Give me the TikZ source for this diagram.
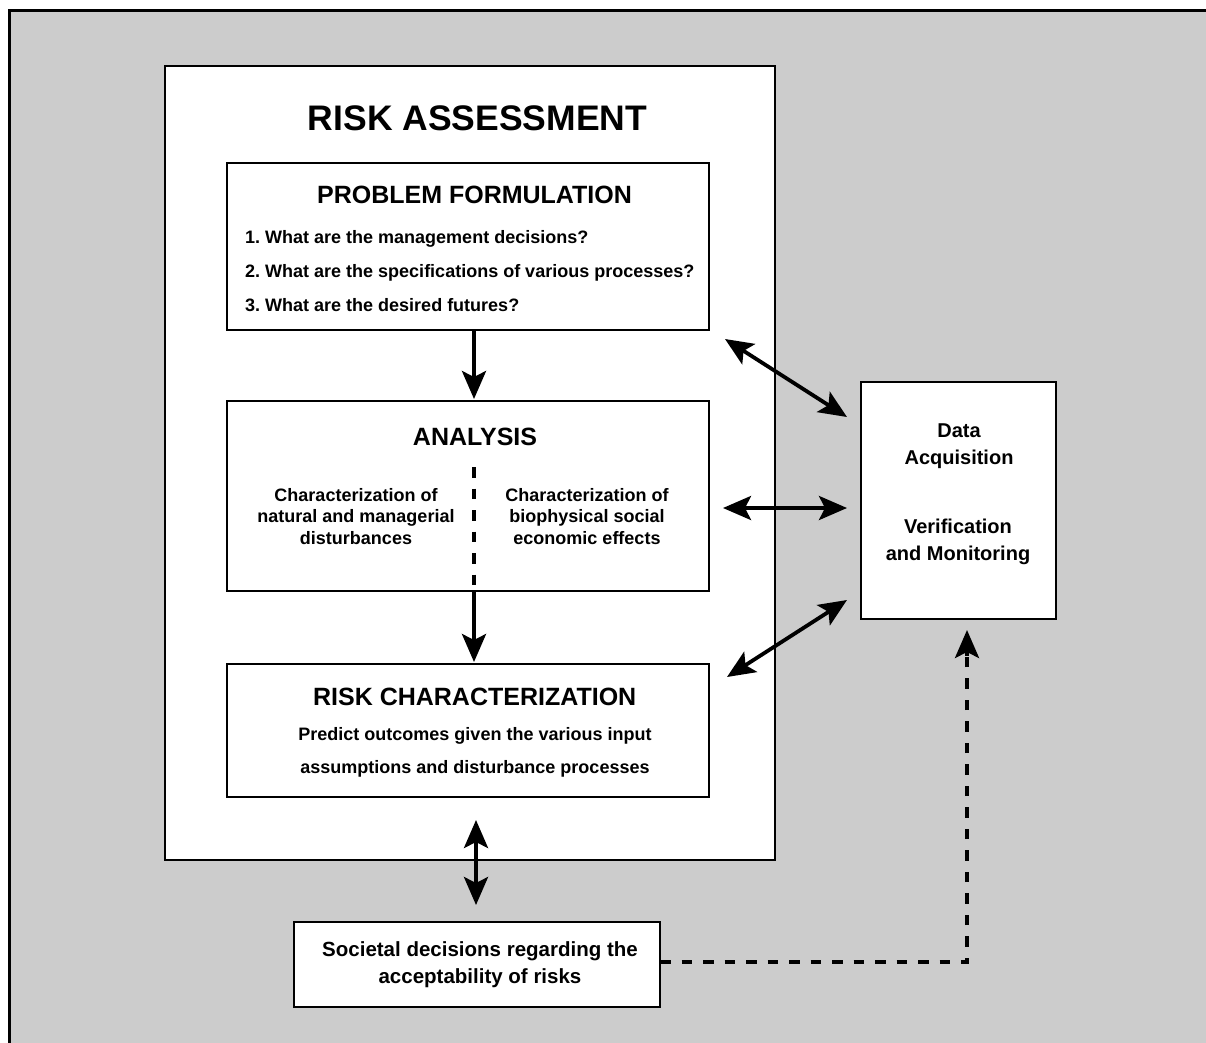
\documentclass[tikz,border=0pt]{standalone}
\usepackage{fontspec}
\setmainfont{Liberation Sans}
\usetikzlibrary{arrows.meta}
\definecolor{bg}{HTML}{CCCCCC}
\frenchspacing
\begin{document}
\begin{tikzpicture}[x=1pt,y=-1pt,
  box/.style={draw=black, line width=1.8pt, fill=white, inner sep=0pt},
  arr/.style={line width=3.8pt, -{Stealth[length=28pt,width=24pt,inset=6pt]}},
  darr/.style={line width=3.8pt, {Stealth[length=28pt,width=24pt,inset=6pt]}-{Stealth[length=28pt,width=24pt,inset=6pt]}},
  dashline/.style={line width=4pt, dash pattern=on 10.5pt off 11pt},
  t/.style={inner sep=0pt, font=\bfseries},
]
\useasboundingbox (0,0) rectangle (1206,1042);
\clip (0,0) rectangle (1206,1042);
\fill[white] (0,0) rectangle (1206,1042);
\draw[line width=3pt, fill=bg] (9,10) rectangle (1240,1080);

% boxes
\node[box, minimum width=610pt, minimum height=794pt] (ra) at (470,463) {};
\node[box, minimum width=482pt, minimum height=167pt] (pf) at (468,246.5) {};
\node[box, minimum width=482pt, minimum height=190pt] (an) at (468,496) {};
\node[box, minimum width=482pt, minimum height=133pt] (rc) at (468,730.5) {};
\node[box, minimum width=195pt, minimum height=237pt] (da) at (958.5,500.5) {};
\node[box, minimum width=366pt, minimum height=85pt] (so) at (477,964.5) {};

% texts (multi-line nodes: base anchor = baseline of last line)
\node[t, anchor=base, font=\bfseries\fontsize{35.5}{40}\selectfont] (ratitle) at (477.5,130) {RISK ASSESSMENT};
\node[t, anchor=base, font=\bfseries\fontsize{25}{30}\selectfont] (pftitle) at (474.5,203) {PROBLEM FORMULATION};
\node[t, anchor=base west, align=left, font=\bfseries\fontsize{18}{34}\selectfont] (pfitems) at (245,311)
  {1. What are the management decisions?\\2. What are the specifications of various processes?\\3. What are the desired futures?};
\node[t, anchor=base, font=\bfseries\fontsize{25}{30}\selectfont] (antitle) at (475,445) {ANALYSIS};
\node[t, anchor=base, align=center, font=\bfseries\fontsize{18}{21.5}\selectfont] (anleft) at (356,544)
  {Characterization of\\natural and managerial\\disturbances};
\node[t, anchor=base, align=center, font=\bfseries\fontsize{18}{21.5}\selectfont] (anright) at (587,544)
  {Characterization of\\biophysical social\\economic effects};
\node[t, anchor=base, font=\bfseries\fontsize{25}{30}\selectfont] (rctitle) at (474.7,705) {RISK CHARACTERIZATION};
\node[t, anchor=base, align=center, font=\bfseries\fontsize{18}{33}\selectfont] (rcbody) at (475,773)
  {Predict outcomes given the various input\\assumptions and disturbance processes};
\node[t, anchor=base, align=center, font=\bfseries\fontsize{20}{27}\selectfont] (datxt) at (959,464) {Data\\Acquisition};
\node[t, anchor=base, align=center, font=\bfseries\fontsize{20}{27}\selectfont] (vmtxt) at (958,560) {Verification\\and Monitoring};
\node[t, anchor=base, align=center, font=\bfseries\fontsize{20.5}{27}\selectfont] (sotxt) at (480,983) {Societal decisions regarding the\\acceptability of risks};

% coordinates
\coordinate (pfb) at (474,330);
\coordinate (ant) at (474,399);
\coordinate (dsh) at (474,467);
\coordinate (anb) at (474,591);
\coordinate (rct) at (474,662);
\coordinate (v1) at (476,820);
\coordinate (v2) at (476,905);
\coordinate (d1a) at (725,339);
\coordinate (d1b) at (847,417);
\coordinate (h1a) at (723,508);
\coordinate (h1b) at (847,508);
\coordinate (d3a) at (847,600);
\coordinate (d3b) at (727,677);
\coordinate (sor) at (660,962);
\coordinate (cor) at (967,962);
\coordinate (dab) at (967,630);
\coordinate (dam) at (967,652);

% connectors
\draw[arr] (pfb) -- (ant);
\draw[dashline] (dsh) -- (anb);
\draw[arr] (anb) -- (rct);
\draw[darr] (v1) -- (v2);
\draw[darr] (d1a) -- (d1b);
\draw[darr] (h1a) -- (h1b);
\draw[darr] (d3a) -- (d3b);
\draw[dashline] (sor) -- (cor) -- (dam);
\draw[arr] ([yshift=-4pt]dam) -- (dab);
\end{tikzpicture}
\end{document}
